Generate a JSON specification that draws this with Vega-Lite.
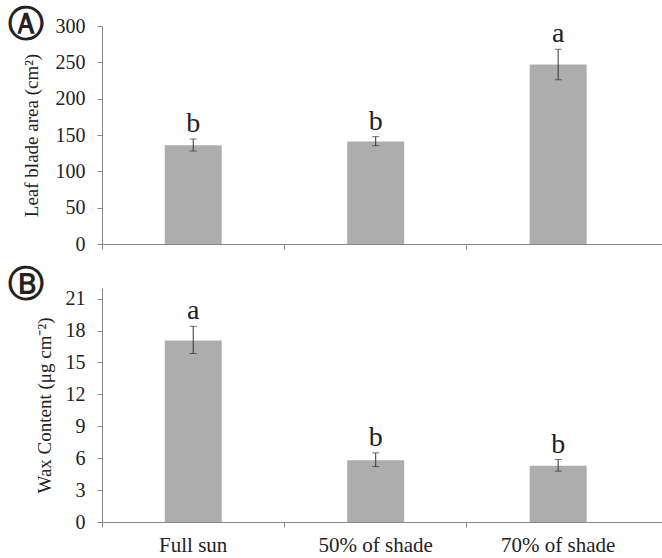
{
  "$schema": "https://vega.github.io/schema/vega-lite/v6.json",
  "padding": {"left": 8, "top": 7, "right": 0, "bottom": 0},
  "background": "white",
  "datasets": {
    "leaf": [
      {"treatment": "Full sun", "value": 136, "lo": 128, "hi": 144.5, "letter": "b"},
      {"treatment": "50% of shade", "value": 141, "lo": 135.3, "hi": 147.7, "letter": "b"},
      {"treatment": "70% of shade", "value": 247, "lo": 226, "hi": 268, "letter": "a"}
    ],
    "wax": [
      {"treatment": "Full sun", "value": 17.06, "lo": 15.84, "hi": 18.4, "letter": "a"},
      {"treatment": "50% of shade", "value": 5.81, "lo": 5.21, "hi": 6.5, "letter": "b"},
      {"treatment": "70% of shade", "value": 5.28, "lo": 4.78, "hi": 5.87, "letter": "b"}
    ]
  },
  "config": {
    "view": {"stroke": null},
    "font": "Liberation Serif",
    "axis": {
      "labelFont": "Liberation Serif",
      "titleFont": "Liberation Serif",
      "labelColor": "#222",
      "titleColor": "#222",
      "titleFontWeight": "normal",
      "domainColor": "#888",
      "tickColor": "#888",
      "grid": false,
      "tickSize": 5,
      "labelOverlap": false
    },
    "title": {"offset": 0}
  },
  "bounds": "flush",
  "spacing": 44,
  "vconcat": [
    {
      "width": 562,
      "height": 218,
      "title": {"text": "Ⓐ", "anchor": "start", "frame": "group", "align": "center", "dx": -76, "baseline": "middle", "dy": 49, "font": "DejaVu Sans", "fontWeight": "bold", "fontSize": 36, "color": "#222"},
      "data": {"name": "leaf"},
      "encoding": {
        "x": {
          "field": "treatment", "type": "nominal", "sort": null,
          "scale": {"domain": ["Full sun", "50% of shade", "70% of shade"], "paddingInner": 0, "paddingOuter": 0.04, "align": 0},
          "axis": {"title": null, "labels": false, "bandPosition": 0}
        }
      },
      "layer": [
        {
          "mark": {"type": "bar", "width": 57, "color": "#adadad"},
          "encoding": {
            "y": {"field": "value", "type": "quantitative", "title": "Leaf blade area (cm²)",
              "scale": {"domain": [0, 300]},
              "axis": {"values": [0, 50, 100, 150, 200, 250, 300], "labelOverlap": false, "labelFontSize": 20, "titleFontSize": 19, "labelPadding": 12, "titlePadding": 14}}
          }
        },
        {
          "mark": {"type": "errorbar", "ticks": true, "size": 7, "thickness": 1, "color": "#333"},
          "encoding": {
            "y": {"field": "lo", "type": "quantitative", "title": "Leaf blade area (cm²)",
              "axis": {"values": [0, 50, 100, 150, 200, 250, 300], "labelOverlap": false, "labelFontSize": 20, "titleFontSize": 19, "labelPadding": 12, "titlePadding": 14}},
            "y2": {"field": "hi"}
          }
        },
        {
          "mark": {"type": "text", "baseline": "alphabetic", "dy": -7, "fontSize": 28, "color": "#222", "font": "Liberation Serif"},
          "encoding": {
            "y": {"field": "hi", "type": "quantitative", "title": "Leaf blade area (cm²)",
              "axis": {"values": [0, 50, 100, 150, 200, 250, 300], "labelOverlap": false, "labelFontSize": 20, "titleFontSize": 19, "labelPadding": 12, "titlePadding": 14}},
            "text": {"field": "letter"}
          }
        }
      ]
    },
    {
      "width": 562,
      "height": 234,
      "title": {"text": "Ⓑ", "anchor": "start", "frame": "group", "align": "center", "dx": -76, "baseline": "middle", "dy": 37, "font": "DejaVu Sans", "fontWeight": "bold", "fontSize": 36, "color": "#222"},
      "data": {"name": "wax"},
      "encoding": {
        "x": {
          "field": "treatment", "type": "nominal", "sort": null,
          "scale": {"domain": ["Full sun", "50% of shade", "70% of shade"], "paddingInner": 0, "paddingOuter": 0.04, "align": 0},
          "axis": {"title": null, "labelAngle": 0, "bandPosition": 0, "labelFontSize": 21, "labelPadding": 7}
        }
      },
      "layer": [
        {
          "mark": {"type": "bar", "width": 57, "color": "#adadad"},
          "encoding": {
            "y": {"field": "value", "type": "quantitative", "title": "Wax Content (μg cm⁻²)",
              "scale": {"domain": [0, 21]},
              "axis": {"values": [0, 3, 6, 9, 12, 15, 18, 21], "labelOverlap": false, "labelFontSize": 20, "titleFontSize": 19, "labelPadding": 12, "titlePadding": 11}}
          }
        },
        {
          "mark": {"type": "errorbar", "ticks": true, "size": 7, "thickness": 1, "color": "#333"},
          "encoding": {
            "y": {"field": "lo", "type": "quantitative", "title": "Wax Content (μg cm⁻²)",
              "axis": {"values": [0, 3, 6, 9, 12, 15, 18, 21], "labelOverlap": false, "labelFontSize": 20, "titleFontSize": 19, "labelPadding": 12, "titlePadding": 11}},
            "y2": {"field": "hi"}
          }
        },
        {
          "mark": {"type": "text", "baseline": "alphabetic", "dy": -7, "fontSize": 28, "color": "#222", "font": "Liberation Serif"},
          "encoding": {
            "y": {"field": "hi", "type": "quantitative", "title": "Wax Content (μg cm⁻²)",
              "axis": {"values": [0, 3, 6, 9, 12, 15, 18, 21], "labelOverlap": false, "labelFontSize": 20, "titleFontSize": 19, "labelPadding": 12, "titlePadding": 11}},
            "text": {"field": "letter"}
          }
        }
      ]
    }
  ]
}
